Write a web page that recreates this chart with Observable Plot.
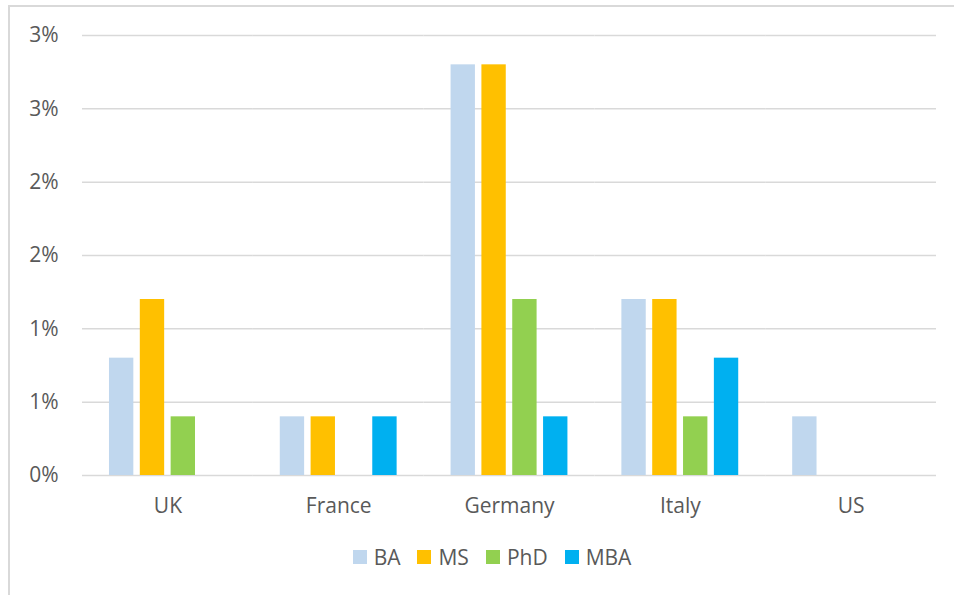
<!DOCTYPE html>
<html>
<head>
<meta charset="utf-8">
<script src="https://cdn.jsdelivr.net/npm/d3@7"></script>
<script src="https://cdn.jsdelivr.net/npm/@observablehq/plot@0.6"></script>
<style>
  html, body { margin: 0; padding: 0; background: #fff; overflow: hidden; }
  body { width: 954px; height: 595px; position: relative; font-family: "Open Sans", sans-serif; }
  #frame { position: absolute; left: 8px; top: 5px; width: 966px; height: 620px;
           border-left: 2px solid #d9d9d9; border-top: 2px solid #d9d9d9; box-sizing: border-box; }
  #chart { position: absolute; left: 0; top: 0; }
  #legend { position: absolute; left: 8px; width: 968px; top: 543px; display: flex;
            justify-content: center; align-items: center; font-size: 21px; color: #595959; }
  .item { display: flex; align-items: center; margin: 0 8.5px; }
  .sw { width: 14px; height: 14px; margin-right: 7px; }
</style>
</head>
<body>
<div id="frame"></div>
<div id="chart"></div>
<div id="legend"></div>
<script>
const countries = ["UK", "France", "Germany", "Italy", "US"];
const degrees = ["BA", "MS", "PhD", "MBA"];
const colors = ["#c0d7ee", "#ffc000", "#92d050", "#00b0f0"];
// values in percent, by degree, aligned with countries (null = no bar)
const BA  = [0.8, 0.4, 2.8, 1.2, 0.4];
const MS  = [1.2, 0.4, 2.8, 1.2, null];
const PhD = [0.4, null, 1.2, 0.4, null];
const MBA = [null, 0.4, 0.4, 0.8, null];
const yTicks = [0, 0.5, 1, 1.5, 2, 2.5, 3];
const yTickLabels = ["0%", "1%", "1%", "2%", "2%", "3%", "3%"];

const series = {BA, MS, PhD, MBA};
const rows = [];
countries.forEach((c, i) => {
  degrees.forEach(d => {
    const v = series[d][i];
    if (v != null) rows.push({country: c, degree: d, value: v});
  });
});

const plot = Plot.plot({
  width: 954,
  height: 530,
  marginLeft: 82,
  marginRight: 18,
  marginTop: 35,
  marginBottom: 55,
  style: {fontSize: "21px", fontFamily: "Open Sans, sans-serif", color: "#595959", background: "transparent"},
  facet: {data: rows, x: "country"},
  fx: {domain: countries, padding: 0, round: false, axis: "bottom", tickSize: 0, tickPadding: 23, label: null},
  x: {domain: degrees, paddingInner: 0.21, paddingOuter: 0.875, round: false, axis: null},
  y: {domain: [0, 3], ticks: yTicks, tickFormat: d => yTickLabels[yTicks.indexOf(d)],
      tickSize: 0, tickPadding: 24, label: null},
  color: {domain: degrees, range: colors},
  marks: [
    Plot.ruleY(yTicks, {stroke: "#d9d9d9", strokeWidth: 1.5}),
    Plot.barY(rows, {x: "degree", y: "value", fill: "degree"})
  ]
});
document.getElementById("chart").appendChild(plot);

const legend = d3.select("#legend");
degrees.forEach((d, i) => {
  const it = legend.append("div").attr("class", "item");
  it.append("div").attr("class", "sw").style("background", colors[i]);
  it.append("span").text(d);
});
</script>
</body>
</html>
